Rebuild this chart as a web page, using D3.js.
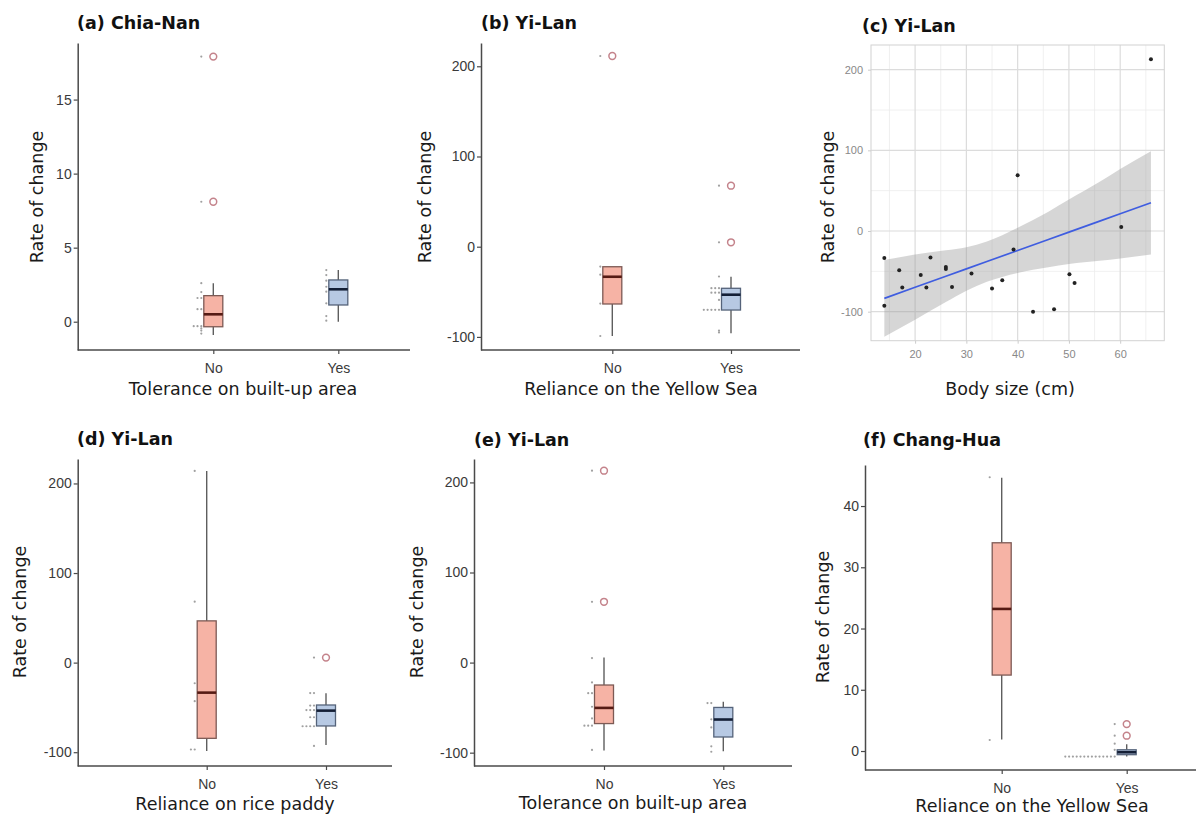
<!DOCTYPE html>
<html>
<head>
<meta charset="utf-8">
<script src="https://cdn.jsdelivr.net/npm/d3@7"></script>
<style>
body { margin: 0; background: #fff; }
svg { font-family: "DejaVu Sans", "Liberation Sans", Arial, sans-serif; }
</style>
</head>
<body>
<svg id="chart" width="1196" height="821"></svg>
<script>
var groups = ["No", "Yes"];

// box stats per group: [lower whisker, Q1, median, Q3, upper whisker]
// (a) Chia-Nan
var statsA = [[-0.9, -0.34, 0.5, 1.76, 2.6], [0, 1.13, 2.19, 2.82, 3.49]];
var outliersA = [[17.9, 8.1], []];
var pointsA = [[17.9, 8.1, 2.6, 2.0, 1.6, 1.6, 0.85, 0.85, -0.3, -0.3, -0.3, -0.45, -0.6, -0.8],
               [3.49, 3.15, 2.77, 2.36, 2.03, 1.24, 0.38, 0.07]];
var ticksA = [0, 5, 10, 15];

// (b) Yi-Lan, Yellow Sea
var statsB = [[-99, -63.5, -33.3, -22.2, -22.2], [-96, -70.2, -53.2, -46.1, -33.3]];
var outliersB = [[211.4], [67.6, 4.9]];
var pointsB = [[211.4, -22, -31, -63, -99],
               [67.6, 4.9, -33, -46, -46, -46, -51, -51, -51, -59, -70, -70, -70, -70, -70, -93, -95]];
var ticksYiLan = [-100, 0, 100, 200];

// (c) Yi-Lan, body size
var bodySize = [14, 14, 16.9, 17.5, 21.1, 22.2, 23, 26, 26, 27.2, 31, 35, 37, 39.2, 40, 43, 47.1, 50.1, 51.1, 60.2, 66];
var rateC = [-33.5, -92.6, -48.7, -70, -54.5, -70, -33, -44.6, -47, -69.4, -52.8, -71.4, -61, -23, 69, -100, -97, -53.7, -64.4, 5, 213];
var smoothX = [14, 20, 26, 30, 34, 40, 46, 50, 56, 60, 66];
var smoothFit = [-83.5, -69.8, -56.1, -47, -37.8, -24.2, -10.5, -1.4, 12.3, 21.4, 35.1];
var smoothLo = [-131, -110, -88, -74, -63, -52, -45, -41, -37, -34, -29];
var smoothHi = [-36, -29, -24, -20, -13, 4, 24, 39, 61, 77, 99];
var ticksCx = [20, 30, 40, 50, 60];

// (d) Yi-Lan, rice paddy
var statsD = [[-98.7, -84.5, -33.5, 46.6, 214], [-92, -70.7, -53.6, -47.3, -34.2]];
var outliersD = [[], [5.6]];
var pointsD = [[214, 68, -23, -43, -97, -97],
               [5.6, -34, -34, -48, -48, -53, -53, -53, -61, -61, -71, -71, -71, -71, -93]];

// (e) Yi-Lan, built-up area
var statsE = [[-97.5, -67.7, -50.3, -24.9, 5.6], [-98.3, -82.6, -63.2, -49.8, -43.6]];
var outliersE = [[213, 67.5], []];
var pointsE = [[213, 67.5, 5, -22, -34, -34, -49, -62, -70, -70, -70, -97],
               [-45, -45, -63, -72, -93, -99]];

// (f) Chang-Hua
var statsF = [[1.9, 12.4, 23.2, 34.0, 44.6], [-0.9, -0.6, -0.2, 0.2, 1.1]];
var outliersF = [[], [4.4, 2.5]];
var pointsF = [[44.7, 1.8],
               [4.4, 2.5, 1.2, 0.2, -0.9, -0.9, -0.9, -0.9, -0.9, -0.9, -0.9, -0.9, -0.9, -0.9, -0.9, -0.9, -0.9, -0.9]];
var ticksF = [0, 10, 20, 30, 40];

var fills = ["#f6b3a5", "#b7c9e3"];
var strokes = ["#7d5a55", "#55637a"];
var medians = ["#561b14", "#141f36"];

var svg = d3.select("#chart");

var boxPanels = [
  {title: "(a) Chia-Nan", xTitle: "Tolerance on built-up area", stats: statsA, outliers: outliersA, points: pointsA, ticks: ticksA,
   left: 77.7, right: 410, top: 43, bottom: 350, xNo: 213.3, xYes: 338.3, yDomain: [-1.91, 18.82],
   titleX: 77, titleY: 29, yTitleX: 37, yTitleY: 197, xTitleX: 243, xTitleY: 395},
  {title: "(b) Yi-Lan", xTitle: "Reliance on the Yellow Sea", stats: statsB, outliers: outliersB, points: pointsB, ticks: ticksYiLan,
   left: 481, right: 800, top: 43, bottom: 350, xNo: 612.3, xYes: 731, yDomain: [-114.5, 225.8],
   titleX: 481, titleY: 29, yTitleX: 425, yTitleY: 197, xTitleX: 641, xTitleY: 395},
  {title: "(d) Yi-Lan", xTitle: "Reliance on rice paddy", stats: statsD, outliers: outliersD, points: pointsD, ticks: ticksYiLan,
   left: 77.7, right: 392, top: 459, bottom: 766, xNo: 206.7, xYes: 326, yDomain: [-115.4, 227.3],
   titleX: 77, titleY: 445, yTitleX: 20, yTitleY: 612, xTitleX: 235, xTitleY: 810},
  {title: "(e) Yi-Lan", xTitle: "Tolerance on built-up area", stats: statsE, outliers: outliersE, points: pointsE, ticks: ticksYiLan,
   left: 474, right: 792, top: 459, bottom: 766, xNo: 604, xYes: 723.3, yDomain: [-114.8, 226],
   titleX: 474, titleY: 446, yTitleX: 417, yTitleY: 612, xTitleX: 633, xTitleY: 809},
  {title: "(f) Chang-Hua", xTitle: "Reliance on the Yellow Sea", stats: statsF, outliers: outliersF, points: pointsF, ticks: ticksF,
   left: 865, right: 1196, top: 465, bottom: 770, xNo: 1001.7, xYes: 1126.7, yDomain: [-3.1, 46.7],
   titleX: 863, titleY: 446, yTitleX: 823, yTitleY: 617, xTitleX: 1032, xTitleY: 812}
];

boxPanels.forEach(drawBoxPanel);
drawScatter();

function styleAxis(g, size) {
  g.selectAll(".domain").attr("stroke", "#4a4a4a").attr("stroke-width", 1.5);
  g.selectAll(".tick line").attr("stroke", "#4a4a4a").attr("stroke-width", 1.2);
  g.selectAll(".tick text").attr("fill", "#3a3a3a").style("font-size", size + "px");
}

function drawBoxPanel(p) {
  var g = svg.append("g");
  var x = d3.scalePoint().domain(groups).range([p.xNo, p.xYes]);
  var y = d3.scaleLinear().domain(p.yDomain).range([p.bottom, p.top]);
  var bw = 19;

  // y axis
  var ya = g.append("g").attr("transform", "translate(" + p.left + ",0)")
    .call(d3.axisLeft(y).tickValues(p.ticks).tickSize(4).tickSizeOuter(0).tickPadding(2).tickFormat(function(d) { return String(d); }));
  styleAxis(ya, 14);

  // x axis
  var xa = g.append("g").attr("transform", "translate(0," + p.bottom + ")")
    .call(d3.axisBottom(x).tickSize(4).tickSizeOuter(0).tickPadding(9));
  xa.select(".domain").remove();
  styleAxis(xa, 14);
  g.append("line").attr("x1", p.left).attr("x2", p.right).attr("y1", p.bottom).attr("y2", p.bottom)
    .attr("stroke", "#4a4a4a").attr("stroke-width", 1.5);

  groups.forEach(function(grp, i) {
    var cx = x(grp);
    var s = p.stats[i];

    // raw points, stacked to the left of the box
    var counts = {};
    p.points[i].forEach(function(v) {
      var k = counts[v] || 0;
      counts[v] = k + 1;
      g.append("circle").attr("cx", cx - 12 - k * 3.8).attr("cy", y(v)).attr("r", 1.1)
        .attr("fill", "#a0a0a0");
    });

    // whiskers
    g.append("line").attr("x1", cx).attr("x2", cx).attr("y1", y(s[4])).attr("y2", y(s[3]))
      .attr("stroke", "#5e5e5e").attr("stroke-width", 1.4);
    g.append("line").attr("x1", cx).attr("x2", cx).attr("y1", y(s[1])).attr("y2", y(s[0]))
      .attr("stroke", "#5e5e5e").attr("stroke-width", 1.4);

    // box
    g.append("rect").attr("x", cx - bw / 2).attr("y", y(s[3])).attr("width", bw)
      .attr("height", Math.max(0.5, y(s[1]) - y(s[3])))
      .attr("fill", fills[i]).attr("stroke", strokes[i]).attr("stroke-width", 1.3);
    g.append("line").attr("x1", cx - bw / 2).attr("x2", cx + bw / 2).attr("y1", y(s[2])).attr("y2", y(s[2]))
      .attr("stroke", medians[i]).attr("stroke-width", 2.6);

    // outliers
    p.outliers[i].forEach(function(v) {
      g.append("circle").attr("cx", cx).attr("cy", y(v)).attr("r", 3.4)
        .attr("fill", "none").attr("stroke", "#c4838b").attr("stroke-width", 1.5);
    });
  });

  g.append("text").attr("x", p.titleX).attr("y", p.titleY).text(p.title)
    .style("font-size", "17.5px").style("font-weight", "bold").attr("fill", "#111");
  g.append("text").attr("transform", "translate(" + p.yTitleX + "," + p.yTitleY + ") rotate(-90)")
    .attr("text-anchor", "middle").attr("dy", "0.35em").text("Rate of change")
    .style("font-size", "17.5px").attr("fill", "#1a1a1a");
  g.append("text").attr("x", p.xTitleX).attr("y", p.xTitleY).attr("text-anchor", "middle")
    .text(p.xTitle).style("font-size", "17.5px").attr("fill", "#1a1a1a");
}

function drawScatter() {
  var g = svg.append("g");
  var left = 871, right = 1164.3, top = 45, bottom = 340.7;
  var x = d3.scaleLinear().domain([11.4, 68.6]).range([left, right]);
  var y = d3.scaleLinear().domain([-136, 230.6]).range([bottom, top]);

  // minor grid
  [15, 25, 35, 45, 55, 65].forEach(function(v) {
    g.append("line").attr("x1", x(v)).attr("x2", x(v)).attr("y1", top).attr("y2", bottom)
      .attr("stroke", "#ececec").attr("stroke-width", 0.8);
  });
  [-50, 50, 150].forEach(function(v) {
    g.append("line").attr("x1", left).attr("x2", right).attr("y1", y(v)).attr("y2", y(v))
      .attr("stroke", "#ececec").attr("stroke-width", 0.8);
  });
  // major grid
  ticksCx.forEach(function(v) {
    g.append("line").attr("x1", x(v)).attr("x2", x(v)).attr("y1", top).attr("y2", bottom)
      .attr("stroke", "#dcdcdc").attr("stroke-width", 1.2);
  });
  ticksYiLan.forEach(function(v) {
    g.append("line").attr("x1", left).attr("x2", right).attr("y1", y(v)).attr("y2", y(v))
      .attr("stroke", "#dcdcdc").attr("stroke-width", 1.2);
  });
  g.append("rect").attr("x", left).attr("y", top).attr("width", right - left).attr("height", bottom - top)
    .attr("fill", "none").attr("stroke", "#d2d2d2").attr("stroke-width", 1);

  // confidence band and fit
  var band = d3.area().x(function(d, i) { return x(smoothX[i]); })
    .y0(function(d, i) { return y(smoothLo[i]); })
    .y1(function(d, i) { return y(smoothHi[i]); })
    .curve(d3.curveMonotoneX);
  g.append("path").datum(smoothX).attr("d", band).attr("fill", "#999").attr("fill-opacity", 0.4);
  var fit = d3.line().x(function(d, i) { return x(smoothX[i]); }).y(function(d, i) { return y(smoothFit[i]); });
  g.append("path").datum(smoothX).attr("d", fit).attr("fill", "none").attr("stroke", "#3f5de0").attr("stroke-width", 1.7);

  g.selectAll("circle.pt").data(bodySize).enter().append("circle").attr("class", "pt")
    .attr("cx", function(d) { return x(d); })
    .attr("cy", function(d, i) { return y(rateC[i]); })
    .attr("r", 2).attr("fill", "#222");

  var xa = g.append("g").attr("transform", "translate(0," + bottom + ")")
    .call(d3.axisBottom(x).tickValues(ticksCx).tickSize(3).tickSizeOuter(0).tickPadding(7));
  xa.select(".domain").remove();
  xa.selectAll(".tick line").attr("stroke", "#ccc");
  xa.selectAll(".tick text").attr("fill", "#888").style("font-size", "11px");
  var ya = g.append("g").attr("transform", "translate(" + left + ",0)")
    .call(d3.axisLeft(y).tickValues(ticksYiLan).tickSize(3).tickSizeOuter(0).tickPadding(5).tickFormat(function(d) { return String(d); }));
  ya.select(".domain").remove();
  ya.selectAll(".tick line").attr("stroke", "#ccc");
  ya.selectAll(".tick text").attr("fill", "#888").style("font-size", "11px");

  g.append("text").attr("x", 862).attr("y", 32).text("(c) Yi-Lan")
    .style("font-size", "17.5px").style("font-weight", "bold").attr("fill", "#111");
  g.append("text").attr("transform", "translate(828,197) rotate(-90)")
    .attr("text-anchor", "middle").attr("dy", "0.35em").text("Rate of change")
    .style("font-size", "17.5px").attr("fill", "#1a1a1a");
  g.append("text").attr("x", 1010).attr("y", 395).attr("text-anchor", "middle")
    .text("Body size (cm)").style("font-size", "17.5px").attr("fill", "#1a1a1a");
}
</script>
</body>
</html>
